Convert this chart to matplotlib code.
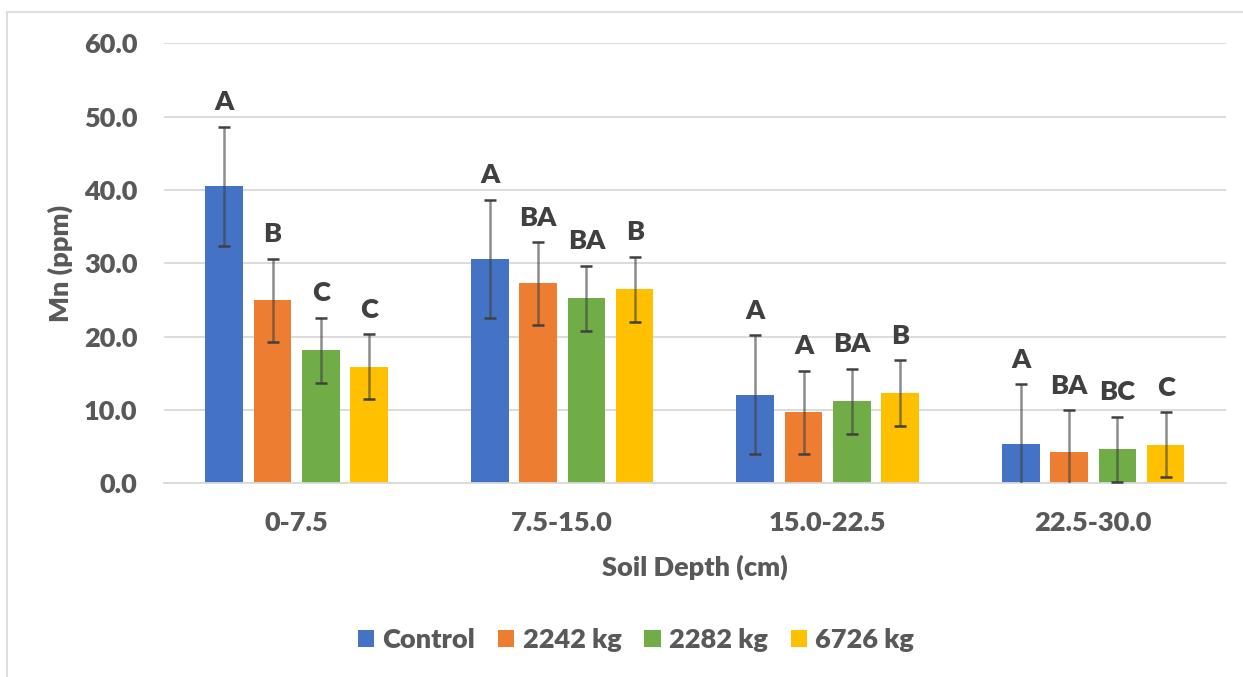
import matplotlib.pyplot as plt
import matplotlib.patches as mpatches
import numpy as np

plt.rcParams['font.family'] = ['Lato', 'DejaVu Sans']
plt.rcParams['font.weight'] = 'bold'

# 土壌深さごとの Mn 濃度 (ppm)
depths = ["0-7.5", "7.5-15.0", "15.0-22.5", "22.5-30.0"]
treatments = ["Control", "2242 kg", "2282 kg", "6726 kg"]
colors = ["#4472C4", "#ED7D31", "#70AD47", "#FFC000"]

control = [40.5, 30.6, 12.1, 5.4]
kg2242 = [24.95, 27.25, 9.7, 4.3]
kg2282 = [18.15, 25.25, 11.2, 4.65]
kg6726 = [15.9, 26.45, 12.3, 5.25]

err_control = [8.1, 8.1, 8.1, 8.1]
err_2242 = [5.65, 5.65, 5.65, 5.65]
err_2282 = [4.45, 4.45, 4.45, 4.45]
err_6726 = [4.45, 4.45, 4.45, 4.45]

letters_control = ["A", "A", "A", "A"]
letters_2242 = ["B", "BA", "A", "BA"]
letters_2282 = ["C", "BA", "BA", "BC"]
letters_6726 = ["C", "B", "B", "C"]

series = [control, kg2242, kg2282, kg6726]
errors = [err_control, err_2242, err_2282, err_6726]
letters = [letters_control, letters_2242, letters_2282, letters_6726]

fs = 19.5

fig = plt.figure(figsize=(12.43, 6.77), dpi=100)
ax = fig.add_axes([0.1319, 0.2861, 0.8544, 0.6499])

x = np.arange(len(depths))
width = 0.1416
pitch = 0.182
for i, (vals, errs, labs) in enumerate(zip(series, errors, letters)):
    pos = x + (i - 1.5) * pitch
    ax.bar(pos, vals, width, color=colors[i], label=treatments[i], zorder=2)
    _, caps, bars = ax.errorbar(pos, vals, yerr=errs, fmt='none', ecolor='#404040',
                                elinewidth=1.8, capsize=4.5, capthick=1.8, alpha=0.6, zorder=3)
    for c in caps:
        c.set_color('#595959')
        c.set_alpha(1)
    for p, v, e, t in zip(pos, vals, errs, labs):
        ax.annotate(t, (p, v + e), xytext=(0, 9), textcoords='offset points',
                    ha='center', va='bottom', fontsize=fs, fontweight='heavy', color='#404040')

ax.set_xlim(-0.5, 3.5)
ax.set_ylim(0, 60)
ax.set_yticks(np.arange(0, 61, 10))
ax.set_yticklabels([f"{v:.1f}" for v in np.arange(0, 61, 10)], fontweight='heavy')
ax.set_xticks(x)
ax.set_xticklabels(depths, fontweight='heavy')
ax.tick_params(axis='both', length=0, labelsize=fs, labelcolor='#595959')
ax.tick_params(axis='x', pad=20)
ax.tick_params(axis='y', pad=19)
ax.grid(axis='y', color='#d9d9d9', linewidth=1.3, zorder=0)
ax.set_axisbelow(True)
for s in ['top', 'right', 'left']:
    ax.spines[s].set_visible(False)
ax.spines['bottom'].set_color('#d9d9d9')
ax.spines['bottom'].set_linewidth(1.3)

ax.set_xlabel('Soil Depth (cm)', fontsize=fs, fontweight='heavy', color='#595959')
ax.xaxis.set_label_coords(0.5, -0.162)
ax.set_ylabel('Mn (ppm)', fontsize=fs, fontweight='heavy', color='#595959')
ax.yaxis.set_label_coords(-0.086, 0.5)

fig.legend(loc='center', bbox_to_anchor=(636 / 1243, 1 - 640 / 677), ncol=4, frameon=False,
           prop={'size': fs, 'weight': 'heavy'}, handlelength=0.6, handleheight=0.6,
           handletextpad=0.3, columnspacing=0.85, labelcolor='#595959')

# 外枠
fig.patches.append(mpatches.Rectangle((7 / 1243, -0.05), 1.1, 1.05 - 12 / 677,
                                      transform=fig.transFigure, fill=False,
                                      edgecolor='#d9d9d9', linewidth=1.2))

plt.savefig('out.png', dpi=100)
